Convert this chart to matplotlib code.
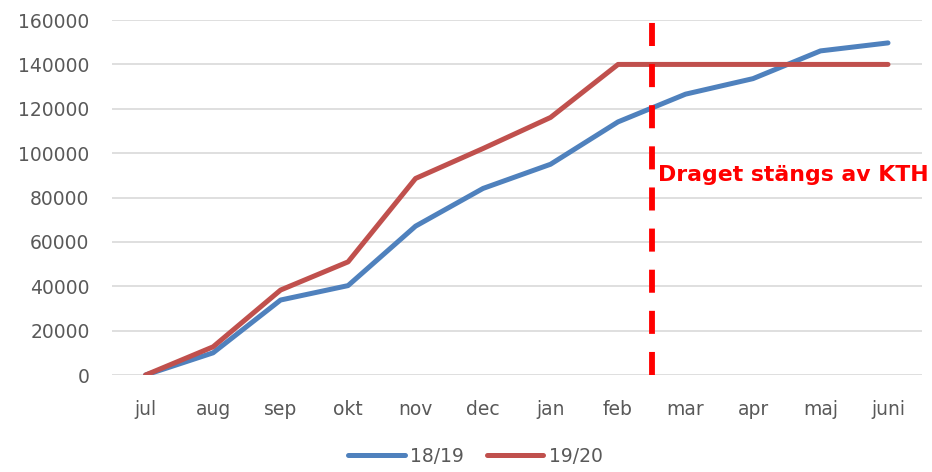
from matplotlib import pyplot as plt

months = ['jul', 'aug', 'sep', 'okt', 'nov', 'dec', 'jan', 'feb', 'mar', 'apr', 'maj', 'juni']
s1819 = [0, 10000, 33800, 40300, 67100, 84100, 95000, 114100, 126600, 133600, 146100, 149700]
s1920 = [0, 12700, 38300, 51000, 88600, 102100, 116100, 140000, 140000, 140000, 140000, 140000]
cutoff = 7.5  # between feb and mar
cutoff_label = 'Draget stängs av KTH'

txt = '#595959'
plt.rcParams['font.family'] = ['DejaVu Sans']

fig = plt.figure(figsize=(9.32, 4.72), dpi=100)
ax = fig.add_axes([0.120, 0.2055, 0.869, 0.752])

x = range(len(months))
ax.plot(x, s1819, color='#4F81BD', linewidth=3.6, solid_capstyle='round',
        solid_joinstyle='round', label='18/19', zorder=3)
ax.plot(x, s1920, color='#C0504D', linewidth=3.6, solid_capstyle='round',
        solid_joinstyle='round', label='19/20', zorder=3)

ax.axvline(cutoff, color='#FF0000', linewidth=4.2, dashes=(3.95, 3.1), zorder=4)
ax.text(cutoff + 0.09, 90100, cutoff_label, color='#FF0000', fontsize=15.8,
        fontweight='bold', va='center', ha='left')

ax.set_xlim(-0.5, 11.5)
ax.set_ylim(0, 160000)
ax.set_yticks(range(0, 160001, 20000))
ax.set_xticks(list(x))
ax.set_xticklabels(months)
ax.grid(axis='y', color='#D9D9D9', linewidth=1.2)
ax.set_axisbelow(True)
for s in ax.spines.values():
    s.set_visible(False)
ax.tick_params(length=0, labelsize=13.5, colors=txt)
ax.tick_params(axis='y', pad=16)
ax.tick_params(axis='x', pad=18)

ax.legend(loc='upper center', bbox_to_anchor=(0.449, -0.155), ncol=2, frameon=False,
          fontsize=13.5, labelcolor=txt, handlelength=3.0, handletextpad=0.3,
          columnspacing=1.2)

fig.savefig('out.png', dpi=100)
